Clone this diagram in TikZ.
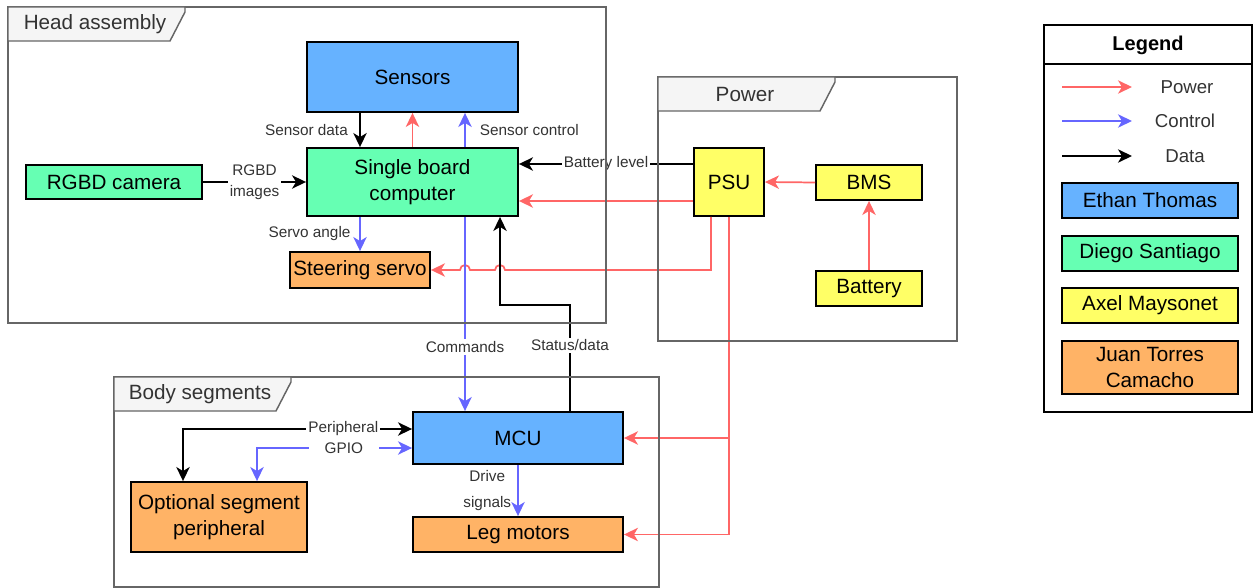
\documentclass[tikz,border=0pt]{standalone}
\usepackage{fontspec}
\setmainfont{Liberation Sans}
\usetikzlibrary{arrows.meta,calc}
\definecolor{ethanblue}{HTML}{66B2FF}
\definecolor{diegogreen}{HTML}{66FFB3}
\definecolor{axelyellow}{HTML}{FFFF66}
\definecolor{juanorange}{HTML}{FFB366}
\definecolor{powerred}{HTML}{FF6666}
\definecolor{ctrlblue}{HTML}{6666FF}
\definecolor{framegray}{HTML}{666666}
\definecolor{tabgray}{HTML}{F5F5F5}
\definecolor{labelgray}{HTML}{333333}
\newcommand{\bigfont}{\fontsize{15.5}{19.5}\selectfont}
\newcommand{\smallfont}{\fontsize{11.5}{16}\selectfont}

\begin{document}
\begin{tikzpicture}[x=0.75pt, y=-0.75pt,
  tip/.tip={Stealth[length=10.5pt,width=10pt,inset=3pt]},
  block/.style={rectangle, draw, line width=1.4pt, inner sep=2pt, align=center, font=\bigfont},
  ethan/.style={block, fill=ethanblue},
  diego/.style={block, fill=diegogreen},
  axel/.style={block, fill=axelyellow},
  juan/.style={block, fill=juanorange},
  powerline/.style={-tip, draw=powerred, line width=1.3pt},
  ctrlline/.style={-tip, draw=ctrlblue, line width=1.3pt},
  dataline/.style={-tip, draw=black, line width=1.3pt},
  lbl/.style={font=\smallfont, text=labelgray, inner sep=1.5pt},
  legtext/.style={font=\fontsize{14}{17}\selectfont, text=labelgray},
  frame/.style={draw=framegray, line width=1.1pt},
  tab/.style={draw=framegray, fill=tabgray, line width=1.1pt},
  tabtext/.style={font=\bigfont, text=labelgray}]
  \useasboundingbox (0,0) rectangle (1253,588);

  % head assembly
  \node (sensors) [ethan, minimum width=158.25pt, minimum height=52.5pt] at (412.5,77) {Sensors};
  \node (sbc) [diego, minimum width=158.25pt, minimum height=51pt] at (412.5,182) {Single board\\computer};
  \node (cam) [diego, minimum width=132pt, minimum height=25.5pt] at (114,182) {RGBD camera};
  \node (servo) [juan, minimum width=105pt, minimum height=27pt] at (360,270) {Steering servo};

  % power
  \node (psu) [axel, minimum width=52.5pt, minimum height=51pt] at (729,182) {PSU};
  \node (bms) [axel, minimum width=79.5pt, minimum height=26.25pt] at (869,182.5) {BMS};
  \node (battery) [axel, minimum width=79.5pt, minimum height=26.25pt] at (869,288.5) {Battery};

  % body segments
  \node (mcu) [ethan, minimum width=157.5pt, minimum height=39pt] at (518,438) {MCU};
  \node (opt) [juan, minimum width=132pt, minimum height=52.5pt] at (219,517) {Optional segment\\peripheral};
  \node (legs) [juan, minimum width=157.5pt, minimum height=26.25pt] at (518,534.5) {Leg motors};

  % connectors
  \draw[dataline] ($(sensors.south)+(-52.5,0)$) -- node[lbl, midway, left=7pt] {Sensor data} ($(sbc.north)+(-52.5,0)$);
  \draw[powerline] (sbc.north) -- (sensors.south);
  \draw[ctrlline] ($(sbc.north)+(52.5,0)$) -- node[lbl, midway, right=9pt] {Sensor control} ($(sensors.south)+(52.5,0)$);
  \draw[dataline] (cam.east) -- node[lbl, midway, fill=white, align=center, font=\fontsize{11.5}{16}\selectfont] {RGBD\\images} (sbc.west);
  \draw[ctrlline] ($(sbc.south)+(-52.5,0)$) -- node[lbl, midway, left=5pt] {Servo angle} (servo.north);
  \draw[dataline] ($(psu.west)+(0,-18)$) -- node[lbl, midway, fill=white] {Battery level} ($(sbc.east)+(0,-18)$);
  \draw[powerline] ($(psu.west)+(0,19)$) -- ($(sbc.east)+(0,19)$);
  \draw[powerline] ($(psu.south)+(-18,0)$) |- (505,270)
    arc[start angle=0, end angle=180, radius=3.75pt] -- (470,270)
    arc[start angle=0, end angle=180, radius=3.75pt] -- (servo.east);
  \draw[ctrlline] ($(sbc.south)+(52.5,0)$) -- node[lbl, pos=0.67, fill=white] {Commands} ($(mcu.north)+(-53,0)$);
  \draw[dataline] ($(mcu.north)+(52,0)$) -- node[lbl, pos=0.62, fill=white] {Status/data} ++(0,-106) -| ($(sbc.south)+(87.5,0)$);
  \draw[powerline] (psu.south) |- (mcu.east);
  \draw[powerline] (psu.south) |- (legs.east);
  \draw[dataline, tip-tip] ($(mcu.west)+(0,-9)$) -| node[lbl, pos=0.15, fill=white] {Peripheral} ($(opt.north)+(-36,0)$);
  \draw[ctrlline, tip-tip] ($(mcu.west)+(0,10)$) -| node[lbl, pos=0.22, fill=white, minimum width=53pt] {GPIO} ($(opt.north)+(38,0)$);
  \draw[ctrlline] (mcu.south) -- node[lbl, midway, left=3pt, align=center, font=\fontsize{11.5}{19}\selectfont] {Drive\\signals} (legs.north);
  \draw[powerline] (battery.north) -- (bms.south);
  \draw[powerline] (bms.west) -- (psu.east);

  % frames with title tabs
  \draw[frame] (8,7) rectangle (606,323);
  \draw[tab] (8,7) -- (185,7) -- (185,12) -- (170,41) -- (8,41) -- cycle;
  \node (headtab) [tabtext] at (95,24) {Head assembly};
  \draw[frame] (658,77) rectangle (957,341);
  \draw[tab] (658,77) -- (835,77) -- (835,82) -- (820,111) -- (658,111) -- cycle;
  \node (powertab) [tabtext] at (745,94) {Power};
  \draw[frame] (114,377) rectangle (659,587);
  \draw[tab] (114,377) -- (291,377) -- (291,382) -- (276,411) -- (114,411) -- cycle;
  \node (bodytab) [tabtext] at (200,394) {Body segments};

  % legend
  \draw[line width=1.3pt] (1044,25) rectangle (1252,412);
  \draw[line width=1.3pt] (1044,64) -- (1252,64);
  \node (legtitle) [font=\bfseries\fontsize{15}{18}\selectfont] at (1148,45) {Legend};
  \coordinate (pwa) at (1062,87);
  \coordinate (pwb) at (1132,87);
  \coordinate (cta) at (1062,121);
  \coordinate (ctb) at (1132,121);
  \coordinate (dta) at (1062,156);
  \coordinate (dtb) at (1132,156);
  \draw[powerline] (pwa) -- (pwb);
  \draw[ctrlline] (cta) -- (ctb);
  \draw[dataline] (dta) -- (dtb);
  \node (pwlbl) [legtext] at (1187,87) {Power};
  \node (ctlbl) [legtext] at (1185,121) {Control};
  \node (dtlbl) [legtext] at (1185,156) {Data};
  \node (keyethan) [ethan, minimum width=132pt, minimum height=26.25pt] at (1150,200.5) {Ethan Thomas};
  \node (keydiego) [diego, minimum width=132pt, minimum height=26.25pt] at (1150,253.5) {Diego Santiago};
  \node (keyaxel) [axel, minimum width=132pt, minimum height=26.25pt] at (1150,305.5) {Axel Maysonet};
  \node (keyjuan) [juan, minimum width=132pt, minimum height=39.75pt] at (1150,367.5) {Juan Torres\\Camacho};
\end{tikzpicture}
\end{document}
